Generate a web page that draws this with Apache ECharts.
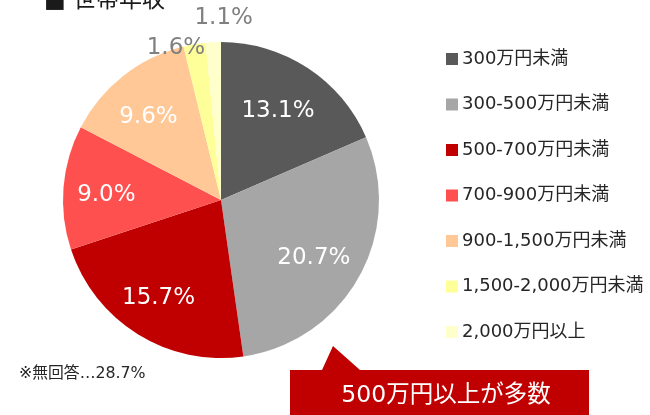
<!DOCTYPE html>
<html>
<head>
<meta charset="utf-8">
<script src="https://cdn.jsdelivr.net/npm/echarts@6/dist/echarts.min.js"></script>
<style>
  html, body { margin: 0; padding: 0; background: #fff; }
  #chart { width: 650px; height: 415px; }
</style>
</head>
<body>
<div id="chart"></div>
<script>
// DejaVu for latin/digits (close to Meiryo's Verdana-style numerals), Noto CJK for the rest
const FONT = '"DejaVu Sans", "Noto Sans CJK JP", sans-serif';

// household income brackets (share of respondents, %)
const categories = ['300万円未満', '300-500万円未満', '500-700万円未満', '700-900万円未満', '900-1,500万円未満', '1,500-2,000万円未満', '2,000万円以上'];
const shares = [13.1, 20.7, 15.7, 9.0, 9.6, 1.6, 1.1];
const sliceColors = ['#595959', '#a6a6a6', '#c00000', '#ff5050', '#ffc896', '#ffff99', '#ffffcc'];
// small slices get their label outside the pie
const outsideLabel = [false, false, false, false, false, true, true];
const outsideOffsets = [null, null, null, null, null, [17, 12], [45, -16]];

const chart = echarts.init(document.getElementById('chart'), null, { renderer: 'canvas' });

const pct = (v) => v.toFixed(1) + '%';

const mainData = categories.map((name, i) => ({
  name,
  value: shares[i],
  itemStyle: { color: sliceColors[i] },
  label: outsideLabel[i]
    ? { show: true, position: 'outside', color: '#808080', fontSize: 23, offset: outsideOffsets[i] }
    : { show: false },
}));

const labelData = categories.map((name, i) => ({
  name,
  value: shares[i],
  label: { show: !outsideLabel[i] },
}));

chart.setOption({
  animation: false,
  textStyle: { fontFamily: FONT },
  legend: {
    orient: 'vertical',
    left: 441,
    top: 45,
    itemWidth: 12,
    itemHeight: 12,
    itemGap: 27.5,
    icon: 'rect',
    selectedMode: false,
    data: categories,
    textStyle: { fontFamily: FONT, fontSize: 18, color: '#262626', lineHeight: 16, padding: [0, 0, 0, -1] },
  },
  series: [
    {
      type: 'pie',
      name: 'main',
      center: [221, 200],
      radius: 158,
      startAngle: 90,
      clockwise: true,
      avoidLabelOverlap: false,
      silent: true,
      itemStyle: { borderWidth: 0 },
      label: {
        fontFamily: FONT,
        formatter: (p) => pct(p.value),
      },
      labelLine: { show: false, length: 8, length2: 0 },
      data: mainData,
    },
    {
      type: 'pie',
      name: 'labels',
      center: [221, 200],
      radius: 216,
      startAngle: 90,
      clockwise: true,
      silent: true,
      itemStyle: { color: 'rgba(0,0,0,0)' },
      label: {
        position: 'inside',
        color: '#ffffff',
        fontSize: 23,
        fontFamily: FONT,
        offset: [-4, 4],
        formatter: (p) => pct(p.value),
      },
      labelLine: { show: false },
      data: labelData,
    },
  ],
  graphic: [
    {
      type: 'text',
      left: 44,
      top: -10,
      style: { text: '■ 世帯年収', fontSize: 23, fontFamily: FONT, fill: '#1a1a1a' },
    },
    {
      type: 'text',
      left: 19,
      top: 366,
      style: { text: '※無回答…28.7%', fontSize: 15.8, fontFamily: FONT, fill: '#262626' },
    },
    {
      type: 'polygon',
      shape: {
        points: [[290, 370], [322, 370], [333, 346], [360, 370], [589, 370], [589, 420], [290, 420]],
      },
      style: { fill: '#c00000' },
    },
    {
      type: 'text',
      x: 446,
      y: 396,
      style: {
        text: '500万円以上が多数',
        fontSize: 23.5,
        fontFamily: FONT,
        fill: '#ffffff',
        align: 'center',
        verticalAlign: 'middle',
      },
    },
  ],
});
</script>
</body>
</html>
